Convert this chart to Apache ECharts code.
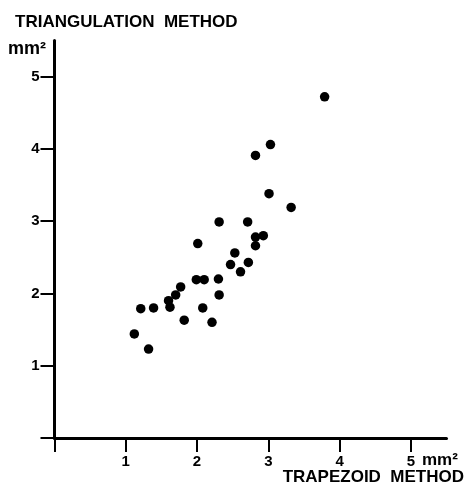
<!DOCTYPE html>
<html>
<head>
<meta charset="utf-8">
<script src="https://cdn.jsdelivr.net/npm/echarts@6/dist/echarts.min.js"></script>
<style>
    html, body { margin: 0; padding: 0; background: #fff; }
    #chart { width: 466px; height: 488px; }
</style>
</head>
<body>
<div id="chart"></div>
<script>
// data (trapezoid, triangulation) in mm2
var trapezoid = [3.79, 3.03, 2.82, 3.01, 3.32, 2.31, 2.71, 2.01, 2.82, 2.93,
    2.82, 2.53, 2.47, 2.72, 2.61, 1.99, 2.10, 2.30, 1.77, 1.70,
    2.31, 1.60, 1.62, 1.21, 1.39, 2.08, 1.82, 2.21, 1.12, 1.32];
var triangulation = [4.72, 4.06, 3.91, 3.38, 3.19, 2.99, 2.99, 2.69, 2.78, 2.80,
    2.66, 2.56, 2.40, 2.43, 2.30, 2.19, 2.19, 2.20, 2.09, 1.98,
    1.98, 1.90, 1.81, 1.79, 1.80, 1.80, 1.63, 1.60, 1.44, 1.23];
var tickValues = [1, 2, 3, 4, 5];

(function () {
    var myChart = echarts.init(document.getElementById("chart"));
    var font = "'Liberation Sans', Arial, sans-serif";
    var points = trapezoid.map(function (x, i) {
        return [x, triangulation[i]];
    });
    // labels only at 1..5, none at 0 or at the axis end
    function tickLabel(v) {
        return tickValues.indexOf(v) >= 0 ? String(v) : '';
    }
    var option = {
        animation: false,
        textStyle: { fontFamily: font },
        title: {
            text: 'TRIANGULATION  METHOD',
            left: 10,
            top: 9,
            textStyle: { fontSize: 17, fontWeight: 'bold', color: '#000', fontFamily: font }
        },
        grid: {
            left: 54.5,
            right: 19.5,
            top: 40.5,
            bottom: 50
        },
        xAxis: {
            type: 'value',
            min: 0,
            max: 5.5,
            interval: 1,
            splitLine: { show: false },
            axisLine: { onZero: false, lineStyle: { color: '#000', width: 3 } },
            axisTick: {
                show: true,
                inside: false,
                length: 14,
                lineStyle: { color: '#000', width: 2 }
            },
            axisLabel: {
                formatter: tickLabel,
                showMaxLabel: false,
                color: '#000',
                fontSize: 15,
                fontWeight: 'bold',
                margin: 16
            }
        },
        yAxis: {
            type: 'value',
            min: 0,
            max: 5.5,
            interval: 1,
            splitLine: { show: false },
            axisLine: { onZero: false, lineStyle: { color: '#000', width: 3 } },
            axisTick: {
                show: true,
                inside: false,
                length: 14,
                lineStyle: { color: '#000', width: 2 }
            },
            axisLabel: {
                formatter: tickLabel,
                showMaxLabel: false,
                color: '#000',
                fontSize: 15,
                fontWeight: 'bold',
                margin: 15
            }
        },
        graphic: [
            {
                type: 'text',
                left: 8,
                top: 40,
                style: { text: 'mm²', font: "bold 18px 'Liberation Sans', Arial, sans-serif", fill: '#000' }
            },
            {
                type: 'text',
                left: 422,
                top: 452,
                style: { text: 'mm²', font: "bold 17px 'Liberation Sans', Arial, sans-serif", fill: '#000' }
            },
            {
                type: 'text',
                right: 2,
                top: 469,
                style: { text: 'TRAPEZOID  METHOD', font: "bold 17px 'Liberation Sans', Arial, sans-serif", fill: '#000' }
            }
        ],
        series: [
            {
                type: 'scatter',
                data: points,
                symbol: 'circle',
                symbolSize: 9.5,
                itemStyle: { color: '#000', opacity: 1 }
            }
        ]
    };
    myChart.setOption(option);
})();
</script>
</body>
</html>
